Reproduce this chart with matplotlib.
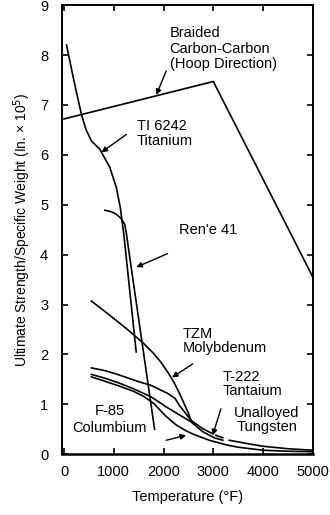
import numpy as np
import matplotlib
matplotlib.use('Agg')
import matplotlib.pyplot as plt

plt.rcParams['font.family'] = ['Liberation Sans', 'DejaVu Sans']

# データ (温度 °F, 比強度 in. x 10^5)
braided_t = [0, 3000, 5000]
braided_s = [6.72, 7.47, 3.55]

ti_t = [50, 200, 350, 440, 550, 720, 920, 1050, 1130, 1200, 1450]
ti_s = [8.2, 7.48, 6.81, 6.51, 6.28, 6.11, 5.75, 5.35, 4.95, 4.42, 2.05]

rene_t = [820, 950, 1050, 1140, 1220, 1255, 1320, 1820]
rene_s = [4.89, 4.86, 4.81, 4.73, 4.61, 4.41, 3.95, 0.5]

tzm_t = [550, 900, 1250, 1450, 1600, 1800, 1950, 2100, 2220, 2320, 2420, 2500, 2560]
tzm_s = [3.07, 2.80, 2.52, 2.35, 2.22, 2.02, 1.84, 1.62, 1.42, 1.22, 1.00, 0.82, 0.66]

t222_t = [550, 800, 1013, 1250, 1480, 1750, 2080, 2230, 2330, 2420, 2550, 2790, 2990]
t222_s = [1.73, 1.68, 1.62, 1.54, 1.46, 1.38, 1.22, 1.12, 0.96, 0.85, 0.68, 0.51, 0.41]
t222_ext_t = [3050, 3190]
t222_ext_s = [0.38, 0.33]

w_t = [550, 800, 1100, 1400, 1750, 2050, 2300, 2550, 2790, 3020, 3190, np.nan,
       3320, 3700, 4000, 4500, 5000]
w_s = [1.60, 1.53, 1.43, 1.31, 1.15, 0.95, 0.80, 0.65, 0.45, 0.33, 0.28, np.nan,
       0.28, 0.21, 0.16, 0.11, 0.08]

cb_t = [550, 800, 1100, 1400, 1600, 1800, 2050, 2250, 2450, 2600, 2920, 3250,
        3500, 4000, 4500, 5000]
cb_s = [1.55, 1.47, 1.37, 1.26, 1.16, 1.02, 0.76, 0.59, 0.47, 0.40, 0.28, 0.19,
        0.14, 0.08, 0.06, 0.05]

fig = plt.figure(figsize=(3.3, 5.15), dpi=100)
ax = fig.add_axes([0.188, 0.118, 0.76, 0.872])

lw = 1.2
for t, s in [(braided_t, braided_s), (ti_t, ti_s), (rene_t, rene_s),
             (tzm_t, tzm_s), (t222_t, t222_s), (w_t, w_s), (cb_t, cb_s)]:
    ax.plot(t, s, color='black', lw=lw)
ax.plot(t222_ext_t, t222_ext_s, color='black', lw=lw)

ax.set_xlim(-40, 5000)
ax.set_ylim(0, 9)
ax.set_xticks(range(0, 5001, 1000))
ax.set_yticks(range(0, 10))
ax.tick_params(direction='in', top=True, right=True, length=4, width=1.2,
               labelsize=10.5)
ax.tick_params(axis='x', pad=8)
ax.tick_params(axis='y', pad=10)
for sp in ax.spines.values():
    sp.set_linewidth(1.4)
ax.spines['bottom'].set_linewidth(1.8)

ax.set_xlabel('Temperature (°F)', fontsize=10.5, labelpad=8)
ax.set_ylabel('Ultimate Strength/Specific Weight (In. × 10$^5$)', fontsize=10,
              labelpad=5)

fs = 10.5
ax.text(2120, 8.58, 'Braided\nCarbon-Carbon\n(Hoop Direction)', fontsize=fs,
        va='top', ha='left', linespacing=1.15)
ax.text(1460, 6.72, 'TI 6242\nTitanium', fontsize=fs, va='top', ha='left',
        linespacing=1.1)
ax.text(2320, 4.5, "Ren'e 41", fontsize=fs, va='center', ha='left')
ax.text(2380, 2.54, 'TZM\nMolybdenum', fontsize=fs, va='top', ha='left',
        linespacing=1.0)
ax.text(3180, 1.68, 'T-222\nTantaium', fontsize=fs, va='top', ha='left',
        linespacing=1.0)
ax.text(4080, 0.96, 'Unalloyed\nTungsten', fontsize=fs, va='top', ha='center',
        linespacing=1.0)
ax.text(920, 1.0, 'F-85\nColumbium', fontsize=fs, va='top', ha='center',
        linespacing=1.25)

ap = dict(arrowstyle='-|>', color='black', lw=1.0, mutation_scale=8,
          shrinkA=0, shrinkB=0)
ax.annotate('', xy=(1853, 7.2), xytext=(2053, 7.68), arrowprops=ap)
ax.annotate('', xy=(753, 6.05), xytext=(1253, 6.41), arrowprops=ap)
ax.annotate('', xy=(1453, 3.75), xytext=(2080, 4.02), arrowprops=ap)
ax.annotate('', xy=(2170, 1.54), xytext=(2587, 1.81), arrowprops=ap)
ax.annotate('', xy=(2987, 0.38), xytext=(3153, 0.91), arrowprops=ap)
ax.annotate('', xy=(2453, 0.38), xytext=(2053, 0.28), arrowprops=ap)

fig.savefig('out.png', dpi=100)
